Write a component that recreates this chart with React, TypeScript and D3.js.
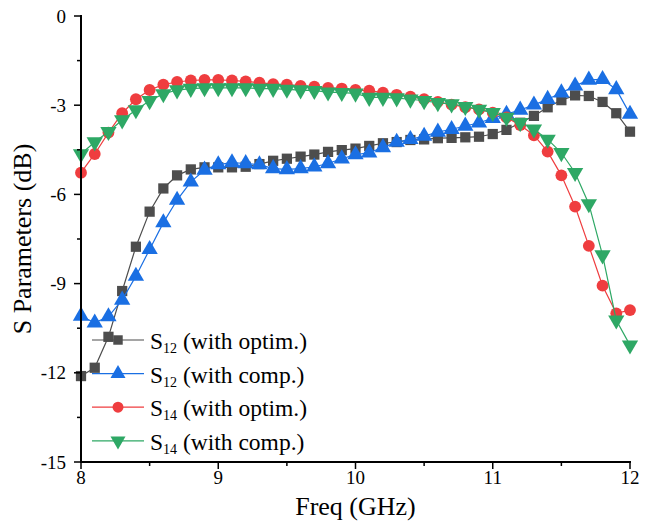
import React from "react";
import * as d3 from "d3";

const freqs = d3.range(41).map((i) => +(8 + i * 0.1).toFixed(1));

const s12Optim = [
  -12.11, -11.83, -10.79, -9.25, -7.76, -6.58, -5.8, -5.36, -5.16, -5.09, -5.09,
  -5.09, -5.07, -4.98, -4.87, -4.8, -4.73, -4.66, -4.57, -4.51, -4.46,
  -4.37, -4.28, -4.24, -4.17, -4.15, -4.11, -4.1, -4.08, -4.06, -3.97,
  -3.83, -3.59, -3.36, -3.07, -2.83, -2.67, -2.69, -2.89, -3.27, -3.89,
];
const s12Comp = [
  -10.09, -10.32, -10.11, -9.55, -8.75, -7.85, -6.95, -6.19, -5.58, -5.18, -5.0,
  -4.93, -4.96, -5.0, -5.13, -5.16, -5.13, -5.07, -4.96, -4.8, -4.66,
  -4.6, -4.42, -4.24, -4.15, -4.04, -3.9, -3.81, -3.7, -3.59, -3.44,
  -3.3, -3.16, -2.99, -2.8, -2.58, -2.35, -2.15, -2.13, -2.47, -3.3,
];
const s14Optim = [
  -5.27, -4.64, -3.92, -3.27, -2.8, -2.49, -2.31, -2.22, -2.17, -2.15, -2.15,
  -2.17, -2.2, -2.24, -2.29, -2.31, -2.35, -2.38, -2.42, -2.44, -2.49,
  -2.51, -2.58, -2.65, -2.71, -2.8, -2.89, -2.98, -3.07, -3.14, -3.25,
  -3.41, -3.67, -4.01, -4.56, -5.36, -6.41, -7.73, -9.07, -10.0, -9.89,
];
const s14Comp = [
  -4.64, -4.24, -3.89, -3.5, -3.16, -2.85, -2.62, -2.49, -2.44, -2.42, -2.42,
  -2.42, -2.42, -2.44, -2.44, -2.47, -2.49, -2.51, -2.56, -2.58, -2.6,
  -2.74, -2.74, -2.76, -2.8, -2.85, -2.92, -2.96, -3.05, -3.14, -3.25,
  -3.41, -3.59, -3.81, -4.15, -4.6, -5.27, -6.32, -8.04, -10.23, -11.07,
];

const seriesNames = ["with optim.", "with comp.", "with optim.", "with comp."];
const seriesSubs = ["12", "12", "14", "14"];
const xTicks = [8, 9, 10, 11, 12];
const xMinor = [8.5, 9.5, 10.5, 11.5];
const yTicks = [0, -3, -6, -9, -12, -15];
const yMinor = [-1.5, -4.5, -7.5, -10.5, -13.5];

const FONT = "Liberation Serif";

const margin = { top: 16, right: 15, bottom: 61, left: 81 };
const W = 645;
const H = 523;
const width = W - margin.left - margin.right;
const height = H - margin.top - margin.bottom;

const x = d3.scaleLinear().domain([8, 12]).range([0, width]);
const y = d3.scaleLinear().domain([-15, 0]).range([height, 0]);

const series = [
  { vals: s12Optim, color: "#4d4d4d", shape: d3.symbolSquare, size: 105, rot: 0 },
  { vals: s12Comp, color: "#1a6fe3", shape: d3.symbolTriangle, size: 115, rot: 0 },
  { vals: s14Optim, color: "#ef3d3f", shape: d3.symbolCircle, size: 110, rot: 0 },
  { vals: s14Comp, color: "#2ea865", shape: d3.symbolTriangle, size: 115, rot: 180 },
];

const line = d3
  .line<number>()
  .x((_, i) => x(freqs[i]))
  .y((d) => y(d));

const App = () => (
  <svg
    width={W}
    height={H}
    style={{ position: "absolute", left: 0, top: 0, background: "#fff" }}
  >
    <g transform={`translate(${margin.left},${margin.top})`}>
      {series.map((s, si) => (
        <g key={si}>
          <path d={line(s.vals) || ""} fill="none" stroke={s.color} strokeWidth={1.2} />
          {s.vals.map((v, i) => (
            <path
              key={i}
              d={d3.symbol(s.shape, s.size)() || ""}
              transform={`translate(${x(freqs[i])},${y(v)}) rotate(${s.rot})`}
              fill={s.color}
            />
          ))}
        </g>
      ))}

      {/* x axis */}
      <line x1={-1} x2={width + 1} y1={height} y2={height} stroke="#000" strokeWidth={2} />
      {xTicks.map((t) => (
        <g key={t} transform={`translate(${x(t)},${height})`}>
          <line y2={7} stroke="#000" strokeWidth={1.5} />
          <text y={22} textAnchor="middle" fontFamily={FONT} fontSize={19} fill="#000">
            {t}
          </text>
        </g>
      ))}
      {xMinor.map((t) => (
        <line key={t} x1={x(t)} x2={x(t)} y1={height} y2={height + 4} stroke="#000" strokeWidth={1.5} />
      ))}

      {/* y axis */}
      <line x1={0} x2={0} y1={-1} y2={height + 1} stroke="#000" strokeWidth={2} />
      {yTicks.map((t) => (
        <g key={t} transform={`translate(0,${y(t)})`}>
          <line x2={-7} stroke="#000" strokeWidth={1.5} />
          <text x={-15} y={6.5} textAnchor="end" fontFamily={FONT} fontSize={19} fill="#000">
            {t}
          </text>
        </g>
      ))}
      {yMinor.map((t) => (
        <line key={t} y1={y(t)} y2={y(t)} x1={0} x2={-4} stroke="#000" strokeWidth={1.5} />
      ))}
    </g>

    <text
      x={margin.left + width / 2}
      y={515}
      textAnchor="middle"
      fontFamily={FONT}
      fontSize={26}
    >
      Freq (GHz)
    </text>
    <text
      transform={`translate(31,${margin.top + height / 2}) rotate(-90)`}
      textAnchor="middle"
      fontFamily={FONT}
      fontSize={26}
    >
      S Parameters (dB)
    </text>

    {/* legend */}
    <g transform="translate(92,340)">
      {series.map((s, i) => (
        <g key={i} transform={`translate(0,${i * 33.6})`}>
          <line x1={0} x2={52} stroke={s.color} strokeWidth={1.2} />
          <path
            d={d3.symbol(s.shape, s.size * 0.85)() || ""}
            transform={`translate(26,0) rotate(${s.rot})`}
            fill={s.color}
          />
          <text x={58} y={9} fontFamily={FONT} fontSize={23.5}>
            <tspan>S</tspan>
            <tspan fontSize={14} dy={4}>
              {seriesSubs[i]}
            </tspan>
            <tspan dy={-4}>{` (${seriesNames[i]})`}</tspan>
          </text>
        </g>
      ))}
    </g>
  </svg>
);

export default App;
